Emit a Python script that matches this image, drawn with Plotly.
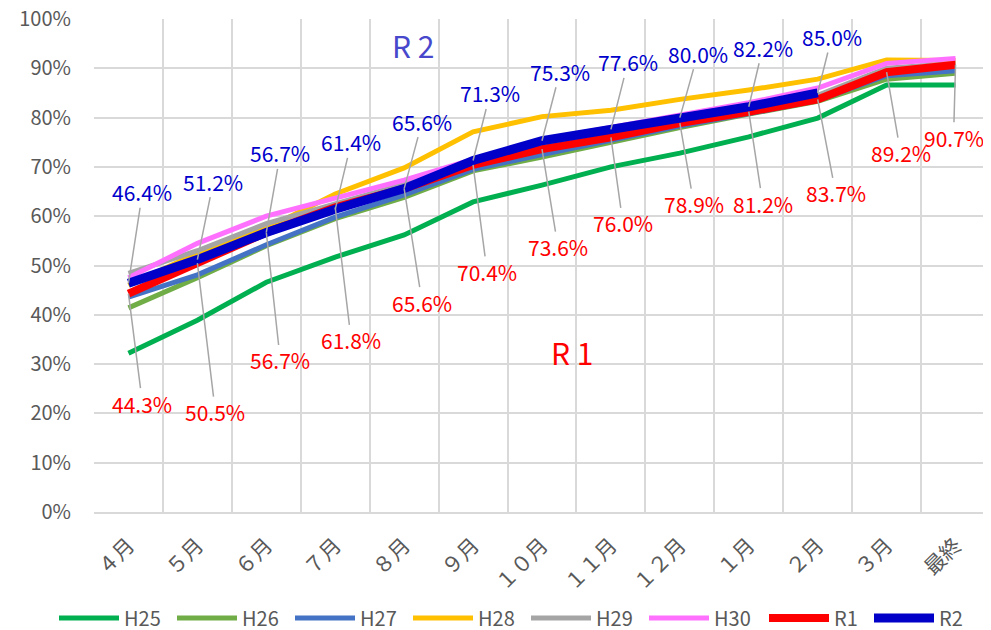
import plotly.graph_objects as go

months = ["４月", "５月", "６月", "７月", "８月", "９月", "１０月", "１１月", "１２月", "１月", "２月", "３月", "最終"]

h25 = [32.2, 38.9, 46.6, 51.7, 56.2, 62.9, 66.3, 70.0, 72.8, 76.1, 79.9, 86.6, 86.6]
h26 = [41.4, 47.5, 54.0, 59.5, 63.8, 69.2, 72.0, 75.0, 78.0, 80.7, 83.3, 87.8, 89.0]
h27 = [43.6, 48.1, 54.2, 59.8, 64.3, 69.5, 72.5, 75.3, 78.3, 80.8, 83.5, 88.5, 89.5]
h28 = [46.0, 52.5, 57.5, 64.5, 69.8, 77.1, 80.2, 81.5, 83.7, 85.6, 87.8, 91.7, 91.6]
h29 = [48.4, 53.0, 58.5, 62.5, 66.5, 71.0, 74.5, 77.0, 79.5, 82.0, 84.5, 90.0, 91.0]
h30 = [47.5, 54.5, 60.0, 63.6, 67.3, 71.5, 75.5, 78.0, 80.5, 83.0, 86.0, 91.0, 92.0]
r1 = [44.3, 50.5, 56.7, 61.8, 65.6, 70.4, 73.6, 76.0, 78.9, 81.2, 83.7, 89.2, 90.7]
r2 = [46.4, 51.2, 56.7, 61.4, 65.6, 71.3, 75.3, 77.6, 80.0, 82.2, 85.0, None, None]

y_ticks = [0, 10, 20, 30, 40, 50, 60, 70, 80, 90, 100]
y_tick_text = [f"{v}%" for v in y_ticks]

# label offsets (pixels) for data labels
r2_off = [(14, -91), (16, -78), (14, -79), (16, -67), (18, -67), (17, -67),
          (18, -69), (17, -67), (18, -64), (14, -59), (14, -56)]
r1_off = [(14, 110), (18, 149), (14, 128), (16, 133), (18, 114), (14, 107),
          (16, 98), (12, 86), (14, 81), (14, 92), (18, 94), (14, 81), (-2, 73)]

series = [
    ("H25", h25, "#00B050", 5, "legend"),
    ("H26", h26, "#70AD47", 5, "legend"),
    ("H27", h27, "#4472C4", 5, "legend"),
    ("H28", h28, "#FFC000", 5, "legend"),
    ("H29", h29, "#A5A5A5", 5, "legend"),
    ("H30", h30, "#FF70FF", 5, "legend"),
    ("R1", r1, "#FF0000", 8, "legend2"),
    ("R2", r2, "#0000C8", 9, "legend2"),
]

FONT = "Noto Sans CJK JP"

# page has an 8px body margin; figure is sized so it fits the 991x630 window
W, H = 983, 622
ML, MR, MT, MB = 86, 1, 11, 118
PW, PH = W - ML - MR, H - MT - MB

fig = go.Figure()
for name, vals, color, w, lg in series:
    fig.add_trace(go.Scatter(x=months, y=vals, name=name, mode="lines", legend=lg,
                             line=dict(color=color, width=w), connectgaps=False))

annotations = []
for i, v in enumerate(r2):
    if v is None:
        continue
    ax, ay = r2_off[i]
    annotations.append(dict(x=months[i], y=v, xref="x", yref="y", text=f"{v:.1f}%",
                            showarrow=True, arrowhead=0, arrowwidth=1.5, arrowcolor="#A6A6A6",
                            ax=ax, ay=ay, standoff=0, borderpad=0,
                            font=dict(family=FONT, size=21, color="#0000CC")))
for i, v in enumerate(r1):
    ax, ay = r1_off[i]
    annotations.append(dict(x=months[i], y=v, xref="x", yref="y", text=f"{v:.1f}%",
                            showarrow=True, arrowhead=0, arrowwidth=1.5, arrowcolor="#A6A6A6",
                            ax=ax, ay=ay, standoff=0, borderpad=0,
                            font=dict(family=FONT, size=21, color="#FF0000")))

annotations.append(dict(x=(413 - 8 - ML) / PW, y=(512 - 45) / PH, xref="paper", yref="paper",
                        xanchor="center", yanchor="middle", text="R 2", showarrow=False,
                        font=dict(family=FONT, size=30, color="#4848CC")))
annotations.append(dict(x=(572 - 8 - ML) / PW, y=(512 - 352) / PH, xref="paper", yref="paper",
                        xanchor="center", yanchor="middle", text="R 1", showarrow=False,
                        font=dict(family=FONT, size=30, color="#FF0000")))

legend_common = dict(orientation="h", xref="container", yref="container", xanchor="left",
                     yanchor="middle", y=1 - (618 - 8) / H,
                     font=dict(family=FONT, size=20, color="#595959"),
                     entrywidthmode="pixels", itemwidth=60, bgcolor="rgba(0,0,0,0)")

fig.update_layout(
    width=W, height=H,
    margin=dict(l=ML, r=MR, t=MT, b=MB, autoexpand=False),
    paper_bgcolor="white", plot_bgcolor="white",
    font=dict(family=FONT, size=19, color="#595959"),
    annotations=annotations,
    legend=dict(legend_common, x=(60 - 14) / W, entrywidth=43),
    legend2=dict(legend_common, x=(770 - 14) / W, entrywidth=30),
    showlegend=True,
)
fig.update_xaxes(type="category", range=[-0.5, 12.5], tickson="boundaries", showgrid=True,
                 gridcolor="#D9D9D9", gridwidth=1.5, tickangle=-45, ticks="", showline=True,
                 linecolor="#D9D9D9", linewidth=1.5, mirror=False, automargin=False,
                 ticklabelstandoff=11, ticklabeloverflow="allow",
                 tickfont=dict(family=FONT, size=21, color="#595959"))
fig.update_yaxes(range=[0, 100], tickmode="array", tickvals=y_ticks, ticktext=y_tick_text,
                 showgrid=True, automargin=False, ticklabelstandoff=22,
                 ticklabeloverflow="allow",
                 gridcolor="#D9D9D9", gridwidth=1.5, zeroline=False, ticks="",
                 tickfont=dict(family=FONT, size=20, color="#595959"))

fig.write_html("out.html")
